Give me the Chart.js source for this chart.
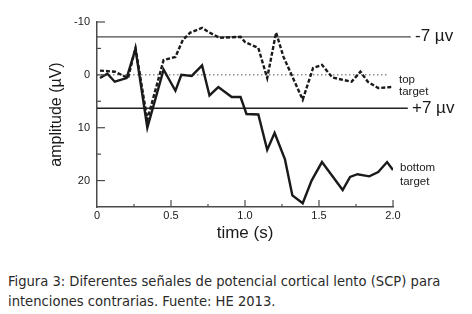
<!DOCTYPE html>
<html>
<head>
<meta charset="utf-8">
<script src="https://cdn.jsdelivr.net/npm/chart.js@4"></script>
<style>
  body { margin: 0; background: #fff; }
  #wrap { width: 472px; height: 255px; }
  #caption {
    margin-top: 16px;
    padding-left: 8px;
    font-family: "DejaVu Sans Condensed", "DejaVu Sans", sans-serif;
    font-size: 14.6px;
    line-height: 20px;
    color: #2a2a2a;
    white-space: nowrap;
  }
</style>
</head>
<body>
<div id="wrap"><canvas id="myChart" width="472" height="255"></canvas></div>
<div id="caption">Figura 3: Diferentes señales de potencial cortical lento (SCP) para<br>intenciones contrarias. Fuente: HE 2013.</div>
<script>
  // time (s) and amplitude (µV); y axis is inverted
  const topTime = [0.02, 0.12, 0.21, 0.26, 0.34, 0.45, 0.53, 0.58, 0.63, 0.71, 0.76, 0.83, 0.97, 1.00, 1.09, 1.15, 1.21, 1.26, 1.39, 1.46, 1.52, 1.59, 1.72, 1.78, 1.83, 1.90, 1.99];
  const topAmp  = [-0.8, -0.6, 0.6, -5.1, 8.5, -2.8, -3.4, -6.6, -8.0, -8.9, -8.0, -7.0, -7.2, -6.2, -5.1, 0.6, -8.0, -3.4, 4.7, -1.3, -1.9, 0.5, 1.3, -0.6, 1.3, 2.5, 2.3];

  const bottomTime = [0.02, 0.07, 0.12, 0.20, 0.26, 0.34, 0.45, 0.53, 0.57, 0.64, 0.71, 0.76, 0.82, 0.91, 0.97, 1.01, 1.09, 1.15, 1.20, 1.27, 1.32, 1.39, 1.45, 1.52, 1.66, 1.71, 1.76, 1.84, 1.90, 1.96, 2.00];
  const bottomAmp  = [0.6, -0.2, 1.3, 0.6, -4.9, 10.0, -1.0, 3.0, 0, 0.2, -1.8, 3.9, 2.3, 4.2, 4.2, 7.4, 7.5, 14.2, 11.0, 16.0, 22.8, 24.3, 20.0, 16.5, 21.8, 19.3, 18.8, 19.2, 18.4, 16.5, 18.0];

  // threshold lines: level and where they stop on the time axis
  const upperLevel = -7.2, upperEnd = 2.12;
  const lowerLevel = 6.3,  lowerEnd = 2.10;
  const baseLevel = 0,     baseEnd = 1.97;

  const yTickLabels = [-10, 0, 10, 20];
  const xTickLabels = [0, 0.5, 1.0, 1.5, 2.0];

  const pts = (xs, ys) => xs.map((t, i) => ({ x: t, y: ys[i] }));
  const flat = (lvl, end) => [{ x: 0, y: lvl }, { x: end, y: lvl }];

  const ink = '#1a1a1a';
  const axisGrey = '#4a4a4a';

  const data = {
    datasets: [
      {
        label: 'top target',
        data: pts(topTime, topAmp),
        borderColor: ink,
        borderWidth: 2.4,
        borderDash: [4, 2],
        pointRadius: 0,
        tension: 0
      },
      {
        label: 'bottom target',
        data: pts(bottomTime, bottomAmp),
        borderColor: ink,
        borderWidth: 2.4,
        pointRadius: 0,
        tension: 0
      },
      {
        label: '-7',
        data: flat(upperLevel, upperEnd),
        borderColor: axisGrey,
        borderWidth: 1.3,
        pointRadius: 0,
        clip: false
      },
      {
        label: '+7',
        data: flat(lowerLevel, lowerEnd),
        borderColor: '#222',
        borderWidth: 1.5,
        pointRadius: 0,
        clip: false
      },
      {
        label: '0',
        data: flat(baseLevel, baseEnd),
        borderColor: '#555',
        borderWidth: 1,
        borderDash: [1.5, 2.5],
        pointRadius: 0,
        clip: false
      }
    ]
  };

  // ticks in this figure point into the plot
  const inwardTicks = {
    id: 'inwardTicks',
    afterDatasetsDraw(chart) {
      const { ctx, chartArea: a, scales: { x, y } } = chart;
      ctx.save();
      ctx.strokeStyle = axisGrey;
      ctx.lineWidth = 1.2;
      y.ticks.forEach(t => {
        if (t.value === y.max) return;
        const py = y.getPixelForValue(t.value);
        const len = yTickLabels.includes(t.value) ? 8 : 4;
        ctx.beginPath(); ctx.moveTo(a.left, py); ctx.lineTo(a.left + len, py); ctx.stroke();
      });
      x.ticks.forEach(t => {
        if (t.value === 0) return;
        const px = x.getPixelForValue(t.value);
        const len = xTickLabels.includes(t.value) ? 7 : 3;
        ctx.beginPath(); ctx.moveTo(px, a.bottom); ctx.lineTo(px, a.bottom - len); ctx.stroke();
      });
      ctx.restore();
    }
  };

  const sideLabels = {
    id: 'sideLabels',
    afterDraw(chart) {
      const { ctx, chartArea: a, scales: { y } } = chart;
      ctx.save();
      ctx.fillStyle = ink;
      ctx.textBaseline = 'middle';
      ctx.textAlign = 'left';
      ctx.font = '17px "Liberation Sans", Arial, sans-serif';
      ctx.fillText('-7 µv', a.right + 22, y.getPixelForValue(upperLevel));
      ctx.fillText('+7 µv', a.right + 19, y.getPixelForValue(lowerLevel));
      ctx.font = '11.5px "Liberation Sans", Arial, sans-serif';
      ctx.fillText('top', a.right + 6, y.getPixelForValue(topAmp[topAmp.length - 1]) - 7);
      ctx.fillText('target', a.right + 6, y.getPixelForValue(topAmp[topAmp.length - 1]) + 5);
      ctx.fillText('bottom', a.right + 7, y.getPixelForValue(bottomAmp[bottomAmp.length - 1]) - 2);
      ctx.fillText('target', a.right + 7, y.getPixelForValue(bottomAmp[bottomAmp.length - 1]) + 12);
      ctx.restore();
    }
  };

  const tickFont = { family: '"Liberation Sans", Arial, sans-serif', size: 11 };

  const config = {
    type: 'line',
    data,
    options: {
      responsive: false,
      animation: false,
      devicePixelRatio: 1,
      layout: { padding: { left: 40, top: 22, right: 79, bottom: 8 } },
      scales: {
        x: {
          type: 'linear',
          min: 0,
          max: 2,
          ticks: {
            stepSize: 0.25,
            padding: 2,
            color: ink,
            font: tickFont,
            maxRotation: 0,
            autoSkip: false,
            callback: v => xTickLabels.includes(v) ? (v === 0 ? '0' : v.toFixed(1)) : ''
          },
          grid: { display: false, drawTicks: false },
          border: { display: true, color: axisGrey, width: 1.5 },
          title: {
            display: true,
            text: 'time (s)',
            color: ink,
            font: { family: '"Liberation Sans", Arial, sans-serif', size: 17 },
            padding: { top: 0, bottom: 3 }
          },
          afterFit: s => { s.height = 40; }
        },
        y: {
          reverse: true,
          min: -10,
          max: 25,
          ticks: {
            stepSize: 5,
            padding: 7,
            color: ink,
            font: tickFont,
            autoSkip: false,
            callback: v => yTickLabels.includes(v) ? String(v) : ''
          },
          grid: { display: false, drawTicks: false },
          border: { display: true, color: axisGrey, width: 1.5 },
          title: {
            display: true,
            text: 'amplitude (µV)',
            color: ink,
            font: { family: '"Liberation Sans", Arial, sans-serif', size: 16 },
            padding: { top: 7, bottom: 0 }
          },
          afterFit: s => { s.width = 57; }
        }
      },
      plugins: {
        legend: { display: false },
        tooltip: { enabled: false }
      }
    },
    plugins: [inwardTicks, sideLabels]
  };

  const myChart = new Chart(document.getElementById('myChart'), config);
</script>
</body>
</html>
